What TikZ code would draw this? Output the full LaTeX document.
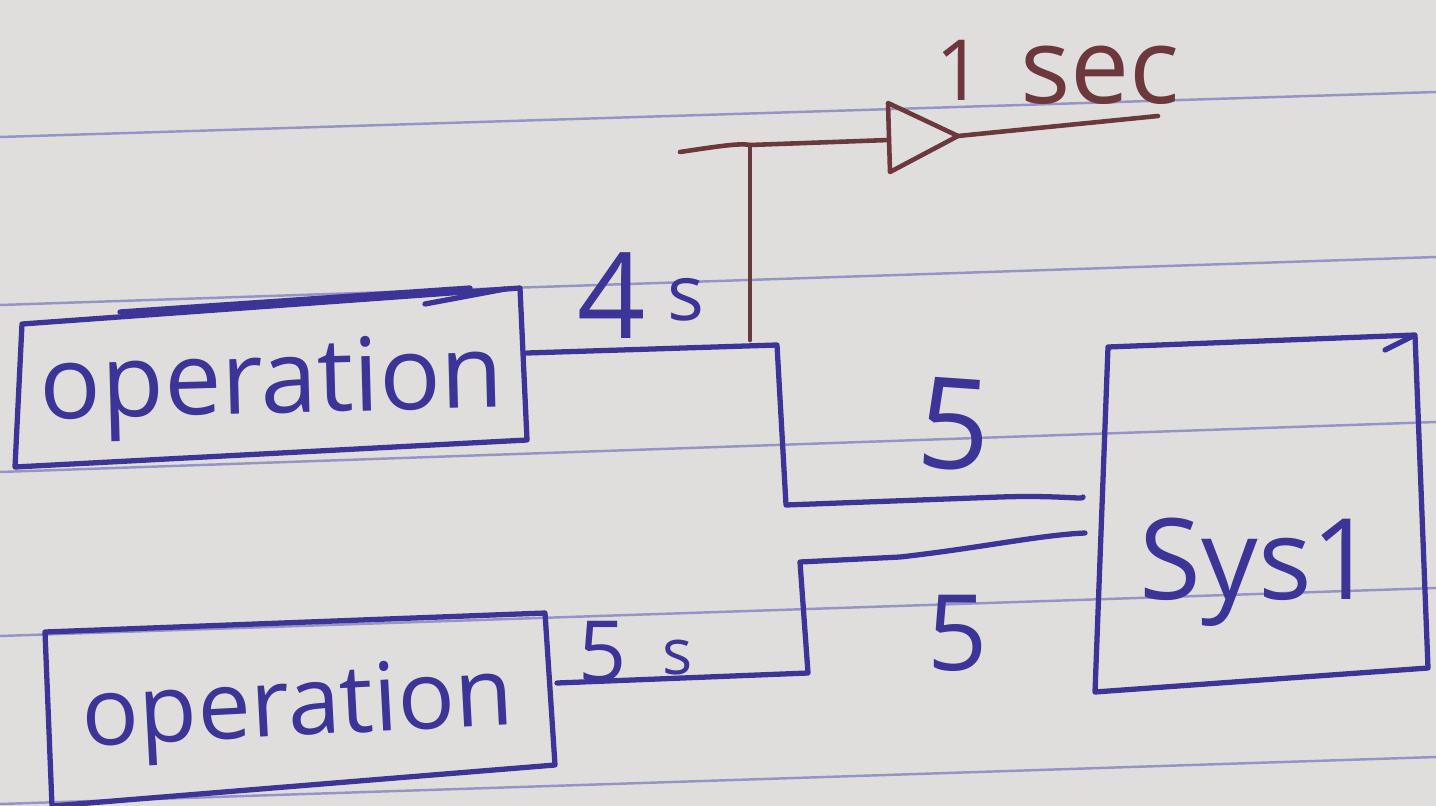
\documentclass[tikz,border=0pt]{standalone}
\usepackage{fontspec}
\setmainfont{Open Sans}
\definecolor{paper}{RGB}{224,222,221}
\definecolor{rulecol}{RGB}{150,148,198}
\definecolor{ink}{RGB}{60,52,150}
\definecolor{redink}{RGB}{108,56,60}
\begin{document}
\begin{tikzpicture}[x=0.01cm,y=-0.01cm,
  inkline/.style={draw=ink,line width=1.5pt,line cap=round,line join=round},
  redline/.style={draw=redink,line width=1.3pt,line cap=round,line join=round},
  ruled/.style={draw=rulecol,line width=0.7pt},
  hand/.style={text=ink,inner sep=0pt,anchor=center}]
\useasboundingbox (0,0) rectangle (1436,806);
\fill[paper] (0,0) rectangle (1436,806);
% ruled lines
\draw[ruled] (0,137) -- (1436,92);
\draw[ruled] (0,305) -- (1436,257);
\draw[ruled] (0,472) -- (1436,422);
\draw[ruled] (0,636) -- (1436,588);
\draw[ruled] (0,804) -- (1436,757);
% box 1
\coordinate (b1tl) at (22,324); \coordinate (b1tr) at (520,288);
\coordinate (b1br) at (527,440); \coordinate (b1bl) at (15,467);
\draw[inkline] (b1tl) -- (b1tr) -- (b1br) -- (b1bl) -- cycle;
\draw[inkline] (120,312) -- (470,288);
\draw[inkline] (425,304) -- (505,289);
\node[hand,font=\fontsize{29}{32}\selectfont,rotate=1.5] (op1) at (272,388) {operation};
% box 2
\coordinate (b2tl) at (45,632); \coordinate (b2tr) at (545,613);
\coordinate (b2br) at (555,765); \coordinate (b2bl) at (52,806);
\draw[inkline] (b2tl) -- (b2tr) -- (b2br) -- (b2bl) -- cycle;
\node[hand,font=\fontsize{27}{30}\selectfont,rotate=3] (op2) at (298,712) {operation};
% sys1 box
\coordinate (stl) at (1108,347); \coordinate (str) at (1415,335);
\coordinate (sbr) at (1428,668); \coordinate (sbl) at (1095,692);
\draw[inkline] (stl) -- (str) -- (sbr) -- (sbl) -- cycle;
\draw[inkline] (1385,350) -- (1413,336);
\node[hand,font=\fontsize{32}{36}\selectfont] (sys) at (1258,572) {Sys1};
% wires
\coordinate (w1a) at (527,353); \coordinate (w1b) at (777,345);
\coordinate (w1c) at (786,505); \coordinate (w1d) at (1083,497);
\draw[inkline] (w1a) -- (w1b) -- (w1c) -- (1000,497) .. controls (1060,495) and (1085,500) .. (w1d);
\coordinate (w2a) at (557,683); \coordinate (w2b) at (808,673);
\coordinate (w2c) at (800,562); \coordinate (w2d) at (1085,533);
\draw[inkline] (w2a) -- (w2b) -- (w2c) -- (900,557) .. controls (980,548) and (1040,535) .. (w2d);
% labels
\node[hand,font=\fontsize{34}{36}\selectfont] (l4) at (612,296) {4};
\node[hand,font=\fontsize{22}{24}\selectfont] (l4s) at (686,300) {s};
\node[hand,font=\fontsize{36}{38}\selectfont,rotate=-4] (l5a) at (955,425) {5};
\node[hand,font=\fontsize{24}{26}\selectfont] (l5s) at (603,652) {5};
\node[hand,font=\fontsize{18}{20}\selectfont] (l5ss) at (678,658) {s};
\node[hand,font=\fontsize{30}{32}\selectfont] (l5b) at (958,633) {5};
% brown timer branch
\coordinate (tbase) at (750,340); \coordinate (tjoin) at (750,145);
\coordinate (tleft) at (680,152); \coordinate (tin) at (889,140);
\coordinate (ttop) at (888,103); \coordinate (tbot) at (890,172);
\coordinate (ttip) at (958,136); \coordinate (tout) at (1158,116);
\draw[redline] (tbase) -- (tjoin);
\draw[redline] (tleft) .. controls (720,146) and (740,143) .. (tjoin) -- (tin);
\draw[redline] (ttop) -- (ttip) -- (tbot) -- cycle;
\draw[redline] (ttip) -- (tout);
\node[text=redink,inner sep=0pt,font=\fontsize{24}{26}\selectfont] (one) at (960,70) {1};
\node[text=redink,inner sep=0pt,font=\fontsize{30}{32}\selectfont] (sec) at (1100,75) {sec};
\end{tikzpicture}
\end{document}
